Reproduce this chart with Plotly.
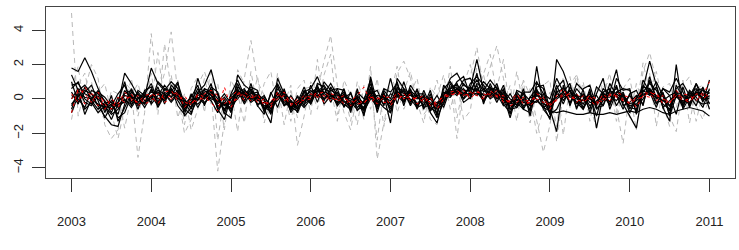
import plotly.graph_objects as go

start_year = 2003
n_months = 97
years = [2003, 2004, 2005, 2006, 2007, 2008, 2009, 2010, 2011]
y_ticks = [-4, -2, 0, 2, 4]

gray_1 = [5.0, -1.0, 0.5, 2.0, 1.2, -1.5, -2.3, -1.8, 1.0, 0.5, -3.4, -0.8,
          3.8, 0.2, 1.5, 3.9, 0.3, -2.0, -1.2, 0.8, 1.6, 0.4, -4.2, -1.3,
          0.5, -1.9, 1.2, 3.4, 1.0, 0.2, -1.5, 1.5, -0.3, 0.8, -2.7, -1.0,
          1.0, 0.5, 2.2, 3.7, 0.8, -0.8, -1.8, 0.3, -1.2, 1.9, -3.5, -1.4,
          -0.5, 1.5, 2.2, 1.2, -0.6, 0.5, -1.2, -1.5, 0.4, 1.2, -2.3, 0.9,
          1.3, 3.0, 0.6, 1.8, 3.1, 1.2, -1.0, 1.6, -0.4, 0.6, -1.2, -3.1,
          -1.5, 1.0, -2.1, 0.8, 1.4, -0.7, 0.5, -1.0, 1.2, 0.3, -0.5, -2.6,
          0.4, -1.8, 1.6, 2.7, 1.1, -0.6, -1.0, -1.9, 0.8, 1.3, -0.4, -1.2, 0.2]
gray_2 = [-1.2, 0.8, 1.5, -0.3, 0.4, 0.9, -0.8, -2.3, -0.5, 1.2, -1.0, 0.6,
          -0.4, 2.7, -0.2, 1.4, -1.1, 0.3, -1.8, -0.6, 1.2, -0.3, 0.9, -1.8,
          1.1, 0.3, -1.4, 1.6, -0.5, 0.9, 1.6, -0.8, 0.4, -1.3, 0.6, 1.1,
          -0.9, 2.3, -0.4, 0.6, -1.3, 1.1, 0.2, -1.5, 0.8, -0.6, 1.2, -1.6,
          1.3, -0.8, 0.4, 1.6, -0.2, -1.4, 0.7, 0.1, 1.4, -0.6, 0.9, -1.2,
          -0.7, 1.9, 1.4, -0.3, 0.6, 2.3, -0.9, 0.2, 1.0, -1.4, 0.4, 0.8,
          1.1, -2.5, 0.3, 1.3, -0.6, 1.0, -1.3, 0.6, 0.2, 1.5, -0.8, 0.4,
          -1.1, 0.9, -0.2, 1.5, -1.6, 0.7, 0.9, -0.5, 1.1, -1.4, 0.6, 0.8, -0.6]
gray_3 = [0.6, 1.9, -0.7, 1.0, -0.6, -1.2, 0.5, 0.3, -1.7, 0.2, 0.9, -0.5,
          1.5, -0.9, 3.2, 0.6, 1.1, -1.5, 0.6, 1.3, -0.8, 1.8, -2.4, 0.2,
          -1.2, 1.7, 0.9, -0.4, 1.3, -1.4, 0.3, 0.9, -1.5, 0.5, -1.1, 0.6,
          0.7, -0.6, 1.4, 2.6, -0.9, 0.4, -1.3, 1.0, -0.1, 0.9, -2.4, 0.6,
          0.2, 1.9, -0.6, 0.3, 1.2, -0.9, -0.4, 1.1, -0.6, 1.9, -1.1, 0.8,
          2.0, 0.3, 1.5, 2.6, 0.2, -0.4, 0.8, -1.3, 1.1, 0.2, -2.0, -0.6,
          0.4, -1.6, 1.3, -0.5, 1.4, 0.2, -0.4, -1.7, 0.7, 1.0, -1.3, 0.6,
          1.2, -0.7, 2.1, 0.4, 1.6, -0.3, -1.6, 0.9, -0.4, 0.5, -1.3, 0.4, -0.2]

black_1 = [1.8, 1.6, 2.4, 1.6, 0.6, -0.2, -0.6, -0.3, 1.5, 0.9, 0.2, 0.1,
           1.8, 0.9, 0.5, 1.0, 0.6, -0.6, -0.9, 0.4, 0.8, 1.7, 0.2, -0.8,
           -1.1, 1.4, 0.8, 0.5, 0.0, -0.6, -1.4, 1.2, 0.3, -0.5, -0.7, 0.4,
           0.6, 1.3, 0.3, 0.9, 0.2, -0.3, -0.6, 0.1, -1.0, 1.3, -0.3, 0.2,
           -1.4, 1.2, 0.6, 0.3, -0.4, 0.2, -0.8, -1.4, 0.1, 1.2, 1.5, 0.8,
           0.6, 2.3, 0.5, 1.1, 0.6, 0.2, -1.1, 0.3, -0.6, -0.8, 1.9, -0.4,
           -1.2, 2.3, 1.6, 0.5, -0.2, -0.6, 0.6, -1.7, 0.2, 0.4, 1.7, -0.3,
           -1.0, -1.7, 0.6, 2.2, 0.8, -0.5, -1.3, 2.0, -0.6, 0.1, 0.9, -0.2, 1.1]
black_2 = [1.4, 0.5, 0.8, 0.3, -0.4, -1.0, -1.5, -1.6, -0.3, 0.6, -0.2, 0.3,
           0.9, -0.2, 0.6, 0.4, 1.0, -1.0, -0.5, 1.2, 0.1, 0.6, -0.6, -1.2,
           0.2, 0.6, -0.2, 0.9, -0.4, -0.9, 0.4, -0.5, 0.6, -0.8, -0.2, 0.7,
           -0.3, 0.9, 0.7, -0.2, 0.6, 0.5, -0.8, 0.6, -0.9, 0.3, 0.5, -0.4,
           1.2, -0.3, 1.0, -0.2, 0.5, -0.6, 0.3, -1.0, 0.8, 0.3, 1.0, 1.3,
           0.2, 1.5, -0.3, 0.9, 0.0, 0.8, -0.6, -0.5, 0.6, -1.0, 0.7, 0.8,
           -0.6, -1.9, 0.8, -0.3, 0.9, 0.5, -0.8, 0.3, 1.2, -0.6, 0.4, 0.6,
           0.5, -0.8, 1.1, 0.4, -0.5, 0.6, 0.2, -0.9, 0.7, -0.5, 0.5, 0.6, -0.6]
black_3 = [-0.3, 0.2, -0.6, -0.2, -0.8, -0.4, -0.9, -0.6, 0.0, -0.5, 0.1, -0.3,
           0.2, -0.4, 0.3, -0.1, 0.4, -0.5, -0.2, 0.1, -0.3, 0.3, -0.5, -0.2,
           -0.6, 0.2, 0.4, -0.2, 0.1, -0.5, -0.2, 0.3, -0.4, -0.1, -0.6, 0.2,
           -0.3, 0.5, 0.0, 0.3, -0.3, 0.2, -0.5, 0.0, -0.6, 0.4, -0.4, 0.1,
           -0.6, 0.2, -0.2, 0.4, -0.4, 0.0, -0.6, -0.3, 0.2, 0.1, 0.6, 0.0,
           0.4, 0.2, 0.6, 0.0, 0.3, -0.4, -0.2, -0.5, 0.0, -0.4, -0.1, -0.5,
           -0.7, -0.8, -0.7, -0.8, -0.9, -0.9, -0.8, -0.9, -0.9, -0.8, -0.9, -0.8,
           -0.7, -0.8, -0.6, -0.5, -0.6, -0.8, -0.9, -0.7, -0.6, -0.5, -0.6, -0.7, -1.0]
black_4 = [0.8, 0.9, 0.3, 0.1, -0.4, -0.3, -0.6, -0.2, 0.3, 0.5, -0.2, 0.1,
           0.4, 0.3, -0.1, 0.6, 0.1, -0.5, -0.3, 0.3, 0.5, 0.2, -0.4, -0.3,
           -0.5, 0.7, 0.4, 0.0, 0.2, -0.5, -0.7, 0.4, -0.1, -0.2, -0.6, 0.2,
           0.4, 0.6, 0.0, 0.5, 0.3, -0.2, -0.1, -0.3, -0.6, 0.5, -0.1, 0.2,
           -0.5, 0.6, 0.3, 0.4, -0.3, 0.2, -0.5, -0.8, 0.2, 0.7, 0.8, 0.5,
           0.5, 1.1, 0.4, 0.7, 0.2, 0.3, -0.6, 0.2, -0.4, -0.2, 0.4, -0.2,
           -0.8, 0.4, 0.6, 0.1, 0.2, -0.3, 0.4, -0.6, -0.1, 0.3, 0.6, 0.1,
           -0.5, -0.6, 0.4, 0.9, 0.5, -0.3, -0.6, 0.5, -0.4, 0.3, 0.6, 0.0, 0.4]
black_5 = [0.0, 0.6, -0.2, -0.4, 0.2, -0.6, -0.3, -0.9, 0.5, 0.0, 0.3, -0.3,
           0.6, -0.3, 0.4, 0.1, 0.5, -0.2, -0.8, 0.0, 0.4, 0.5, 0.0, -0.6,
           0.1, 0.3, 0.6, -0.1, 0.3, -0.1, -0.9, 0.6, 0.2, -0.6, -0.2, -0.3,
           0.0, 0.5, 0.4, 0.2, -0.2, 0.3, -0.4, 0.2, -0.3, 0.1, -0.5, 0.4,
           -0.8, 0.5, -0.1, 0.5, 0.1, -0.2, 0.0, -0.6, -0.3, 0.9, 0.3, 0.6,
           0.0, 0.9, 0.6, 0.2, 0.6, -0.1, -0.2, 0.4, -0.1, -0.6, 0.5, 0.1,
           -0.3, 0.8, -0.1, 0.5, -0.3, 0.3, -0.2, -0.2, 0.4, -0.2, 0.8, -0.4,
           -0.2, 0.2, -0.3, 1.1, 0.0, 0.2, -0.9, 0.8, 0.1, -0.3, 0.4, 0.3, 0.1]
black_6 = [-0.8, 0.2, 0.5, 0.3, 0.0, -0.4, -1.2, -0.3, -0.2, 0.4, 0.1, -0.5,
           0.2, 0.4, 0.0, 0.5, -0.1, -0.7, 0.0, -0.3, 0.1, 0.9, -0.6, -0.2,
           -0.7, 0.2, 0.1, 0.5, -0.4, 0.1, -0.4, -0.1, 0.4, -0.1, -0.8, 0.1,
           0.5, 0.1, 0.6, 0.4, -0.4, 0.1, 0.3, -0.5, -0.2, 0.6, 0.1, -0.3,
           0.3, 0.1, 0.5, -0.4, 0.3, 0.3, -0.7, -0.3, 0.4, 0.2, 0.6, 0.2,
           0.7, 0.4, -0.1, 0.6, 0.5, 0.0, -0.4, -0.3, 0.3, -0.1, -0.2, 0.3,
           -0.9, -0.6, 0.2, 0.5, -0.5, 0.0, 0.3, -0.4, 0.6, 0.2, -0.1, 0.4,
           -0.6, 0.1, 0.5, 0.2, 0.7, -0.5, -0.1, 0.3, -0.5, 0.4, -0.1, -0.3, -0.2]
black_7 = [0.4, -0.3, 0.7, -0.1, -0.6, -0.2, -0.2, -1.1, -0.8, 0.2, -0.4, 0.2,
           0.1, 0.5, 0.3, -0.2, 0.3, 0.0, -0.6, 0.4, -0.2, 0.1, 0.3, -0.7,
           0.0, 0.5, 0.2, 0.3, 0.4, -0.6, -0.2, 0.3, -0.3, -0.4, 0.1, -0.2,
           0.2, 0.3, -0.1, 0.7, 0.0, -0.4, -0.3, 0.1, -0.7, 0.0, 0.2, 0.1,
           -0.1, 0.4, 0.1, 0.0, -0.5, -0.3, 0.1, -0.4, 0.3, 0.5, 0.2, 0.9,
           0.4, 0.3, 0.3, 0.1, 0.4, 0.5, 0.0, -0.2, -0.6, 0.1, 0.0, -0.5,
           -0.2, 0.1, 0.4, -0.2, 0.3, -0.5, 0.1, 0.2, -0.4, 0.5, 0.2, -0.2,
           0.2, -0.4, 0.0, 0.6, -0.2, -0.1, 0.2, 0.4, 0.2, -0.2, 0.2, 0.5, 0.3]
black_8 = [0.2, 0.0, -0.5, 0.5, 0.3, -0.1, -0.8, 0.1, -0.1, -0.3, 0.0, 0.4,
           -0.3, 0.2, 0.8, 0.3, 0.2, -0.4, -0.2, 0.6, 0.0, 0.4, -0.3, 0.1,
           -0.4, 0.0, 0.5, 0.2, -0.3, -0.2, -0.6, 0.1, 0.5, -0.5, -0.3, 0.4,
           -0.2, 0.7, 0.2, 0.0, 0.4, -0.1, -0.5, -0.1, -0.2, 0.4, -0.6, 0.3,
           -0.3, 0.2, 0.6, -0.1, 0.2, 0.1, -0.4, -0.2, 0.0, 0.4, 0.6, 0.3,
           0.6, 0.5, 0.0, 0.3, 0.0, 0.4, -0.3, 0.1, 0.1, -0.4, 0.3, -0.3,
           -0.4, 0.3, 0.1, 0.3, 0.1, 0.2, -0.4, -0.1, 0.2, -0.3, 0.4, 0.2,
           -0.3, -0.1, 0.3, 0.3, 0.1, 0.3, -0.4, 0.1, -0.1, 0.1, 0.4, -0.1, 0.2]
black_9 = [-0.4, 0.3, 0.1, 0.0, -0.3, -0.5, -0.1, -0.5, 0.2, 0.1, -0.3, -0.2,
           0.5, 0.0, 0.1, 0.4, 0.0, -0.1, -0.5, 0.2, 0.3, 0.0, -0.1, -0.4,
           -0.2, 0.4, 0.3, 0.1, 0.1, -0.4, -0.3, 0.3, -0.2, -0.1, -0.5, -0.1,
           0.3, 0.2, 0.3, 0.1, 0.2, 0.2, 0.0, -0.2, -0.5, 0.2, -0.2, 0.0,
           -0.3, 0.3, 0.2, 0.2, 0.0, 0.1, -0.2, -0.5, -0.1, 0.3, 0.4, 0.4,
           0.2, 0.6, 0.2, 0.4, 0.3, 0.1, -0.2, 0.0, -0.2, -0.3, 0.2, 0.0,
           -0.5, 0.0, 0.3, 0.2, 0.0, -0.1, 0.0, -0.3, 0.1, 0.1, 0.3, 0.0,
           -0.4, -0.3, 0.2, 0.5, 0.2, -0.1, -0.4, 0.3, -0.2, 0.1, 0.3, 0.1, 0.0]
black_10 = [0.6, 1.0, 0.0, -0.3, 0.4, 0.1, -0.4, 0.3, 0.8, -0.2, 0.4, -0.1,
            0.0, 0.7, -0.3, 0.8, 0.4, -0.6, 0.2, -0.1, 0.6, 0.4, -0.2, 0.3,
            -0.3, 0.9, -0.1, 0.6, -0.1, 0.2, -0.6, 0.8, -0.4, 0.2, -0.4, 0.5,
            -0.1, 0.4, 0.8, 0.2, -0.2, 0.6, -0.6, 0.4, 0.0, 0.9, -0.4, 0.6,
            0.4, 0.9, -0.2, 0.6, -0.6, 0.5, -0.4, 0.2, -0.5, 0.6, 0.9, 0.0,
            0.9, 1.3, 0.8, 0.2, 0.9, -0.3, 0.3, -0.4, 0.4, 0.4, 1.0, 0.3,
            0.0, 1.2, 0.4, 0.9, -0.6, 0.6, 0.8, -0.5, -0.4, 0.9, 0.2, -0.6,
            0.3, 0.5, -0.4, 1.3, 0.0, 0.6, 0.4, 1.2, 0.4, -0.4, 0.9, 0.2, 0.5]
black_11 = [1.0, -0.2, 0.4, 0.8, -0.1, -1.1, -0.4, -0.2, 1.0, -0.4, 0.5, 0.2,
            -0.2, 1.0, 0.6, 0.1, 0.9, -0.3, 0.1, 0.8, -0.4, 0.7, 0.4, -0.9,
            0.3, 1.1, 0.2, 0.7, 0.5, -0.8, 0.3, 0.9, 0.1, -0.7, 0.2, -0.4,
            0.8, -0.2, 1.0, 0.5, 0.6, -0.5, 0.4, -0.7, -0.1, 1.1, -0.8, 0.5,
            0.0, 1.0, -0.4, 0.8, 0.2, -0.4, 0.5, -0.9, 0.6, 1.0, 0.4, 1.1,
            1.2, 0.5, 1.0, 0.6, -0.2, 0.6, -0.9, 0.5, 0.3, -0.7, 0.9, 0.6,
            -0.9, 0.6, 1.1, -0.4, 0.6, 0.1, -0.6, 0.7, 0.3, -0.4, 1.2, 0.5,
            0.6, -0.9, 0.8, 0.3, 1.0, 0.1, -0.7, 0.6, 0.9, 0.2, -0.4, 0.7, -0.3]
black_12 = [-0.6, 0.5, -0.9, 0.0, 0.5, -0.8, 0.2, -1.3, -0.5, 0.3, -0.6, 0.5,
            0.7, -0.5, 0.2, 0.6, -0.4, -0.9, 0.3, -0.5, 0.2, -0.1, -0.8, 0.0,
            -0.8, 0.5, -0.3, 0.4, 0.2, 0.0, -0.8, 0.1, 0.2, -0.5, -0.1, -0.5,
            0.0, 0.8, -0.3, 0.2, 0.0, 0.4, -0.2, -0.6, -0.5, 0.7, -0.1, -0.5,
            -0.8, 0.7, 0.4, -0.3, 0.6, -0.5, -0.3, -1.1, -0.2, 0.6, 0.7, -0.2,
            0.1, 0.8, -0.2, 0.5, 0.7, -0.3, -0.8, 0.0, -0.5, 0.1, 0.6, -0.6,
            -1.1, 0.5, -0.3, 0.7, 0.1, -0.6, 0.2, -1.0, 0.4, 0.6, -0.4, 0.3,
            -0.8, 0.0, 0.7, 0.6, -0.3, 0.4, -1.0, 0.2, -0.3, 0.5, 0.1, -0.5, 0.6]

red_1 = [-0.8, 0.6, 0.3, -0.2, 0.4, -0.3, -0.6, 0.1, -0.2, 0.3, -0.4, 0.0,
         0.2, -0.3, 0.4, 0.5, -0.1, 0.2, -0.4, 0.3, 0.1, -0.2, -0.7, 0.7,
         -0.5, 0.3, 0.2, -0.1, 0.3, -0.4, -0.1, 0.2, 0.4, -0.3, -0.2, 0.2,
         0.1, 0.4, -0.2, 0.3, 0.2, -0.3, -0.1, 0.2, 0.7, -0.2, 0.1, -0.2,
         -0.2, 0.4, 0.0, 0.3, -0.3, 0.0, -0.2, -0.3, 0.2, 0.3, 0.2, 0.5,
         0.0, 0.4, 0.3, 0.1, 0.5, -0.2, -0.1, 0.3, -0.3, -0.2, 0.3, 0.1,
         -0.6, 0.2, 0.6, -0.1, 0.3, -0.1, 0.2, 0.0, -0.2, 0.3, 0.1, -0.1,
         -0.2, 0.1, 0.4, 0.3, -0.1, 0.2, -0.3, 0.5, 0.0, -0.2, 0.3, 0.2, 1.0]
red_2 = [0.3, -0.2, 0.7, 0.1, -0.4, 0.0, -0.3, -0.5, 0.2, -0.1, 0.2, -0.3,
         -0.1, 0.3, 0.0, 0.2, 0.4, -0.5, 0.0, -0.2, 0.3, 0.5, 0.2, -0.3,
         0.1, 0.5, -0.1, 0.3, -0.2, 0.0, -0.5, 0.4, -0.1, 0.1, -0.4, 0.0,
         0.3, 0.1, 0.2, -0.1, 0.0, 0.2, -0.4, 0.0, -0.3, 0.3, -0.3, 0.1,
         0.1, -0.1, 0.3, -0.1, 0.1, -0.2, 0.1, -0.6, 0.0, 0.4, 0.5, 0.2,
         0.4, 0.2, 0.0, 0.5, 0.1, 0.2, -0.4, -0.2, 0.1, -0.4, 0.0, -0.2,
         -0.3, -0.1, 0.2, 0.3, -0.2, 0.2, -0.1, -0.4, 0.3, -0.1, 0.4, 0.2,
         0.1, -0.5, 0.2, 0.1, 0.4, -0.3, -0.1, 0.1, 0.3, 0.2, -0.1, 0.4, 0.1]
red_3 = [0.0, 0.4, -0.3, 0.3, 0.1, -0.6, 0.0, -0.3, 0.4, 0.0, -0.2, 0.2,
         0.3, 0.1, -0.2, 0.0, 0.3, -0.2, -0.3, 0.2, -0.1, 0.3, -0.1, 0.0,
         -0.2, 0.0, 0.4, 0.1, 0.0, -0.2, -0.3, 0.0, 0.2, -0.4, 0.0, -0.1,
         0.0, 0.3, 0.4, 0.1, -0.1, 0.0, -0.1, -0.3, -0.2, 0.1, 0.0, 0.2,
         -0.4, 0.2, 0.1, 0.1, 0.0, 0.2, -0.4, -0.1, 0.1, 0.2, 0.4, 0.3,
         0.2, 0.5, 0.1, 0.3, 0.2, 0.0, -0.2, 0.1, -0.1, -0.1, 0.1, 0.0,
         -0.4, 0.0, 0.3, 0.1, 0.0, -0.2, 0.1, -0.2, 0.0, 0.2, 0.2, 0.0,
         -0.3, 0.0, 0.1, 0.4, 0.2, 0.0, -0.2, 0.2, -0.1, 0.0, 0.2, 0.0, 0.3]

gray_series = [gray_1, gray_2, gray_3]
black_series = [black_1, black_2, black_3, black_4, black_5, black_6, black_7,
                black_8, black_9, black_10, black_11, black_12]
red_series = [red_1, red_2, red_3]

x = [start_year + i / 12 for i in range(n_months)]

fig = go.Figure()
for s in gray_series:
    fig.add_trace(go.Scatter(x=x, y=s, mode="lines",
                             line=dict(color="#B8B8B8", width=1, dash="5px,4px")))
for s in black_series:
    fig.add_trace(go.Scatter(x=x, y=s, mode="lines",
                             line=dict(color="black", width=1.2)))
for s in red_series:
    fig.add_trace(go.Scatter(x=x, y=s, mode="lines",
                             line=dict(color="#FF0000", width=1, dash="3px,4px")))

font = dict(family="Liberation Sans, Arial, sans-serif", size=13, color="#222")

fig.update_layout(
    width=739, height=250,
    margin=dict(l=46, r=4, t=7, b=72),
    paper_bgcolor="white", plot_bgcolor="white",
    showlegend=False,
    font=font,
    xaxis=dict(range=[2002.68, 2011.32], tickmode="array", tickvals=years,
               ticktext=[str(y) for y in years], ticks="outside", ticklen=13,
               tickcolor="#333", tickwidth=1.2, showgrid=False, zeroline=False,
               showline=True, linecolor="#444", linewidth=1, mirror=True,
               ticklabelstandoff=18, tickfont=font),
    yaxis=dict(range=[-4.6, 5.35], tickmode="array", tickvals=y_ticks,
               ticktext=["\u22124", "\u22122", "0", "2", "4"],
               ticks="outside", ticklen=13, tickcolor="#333", tickwidth=1.2,
               showgrid=False, zeroline=False, showline=True, linecolor="#444",
               linewidth=1, mirror=True, tickangle=-90, ticklabelstandoff=4,
               tickfont=font),
)

fig.write_html("out.html")
